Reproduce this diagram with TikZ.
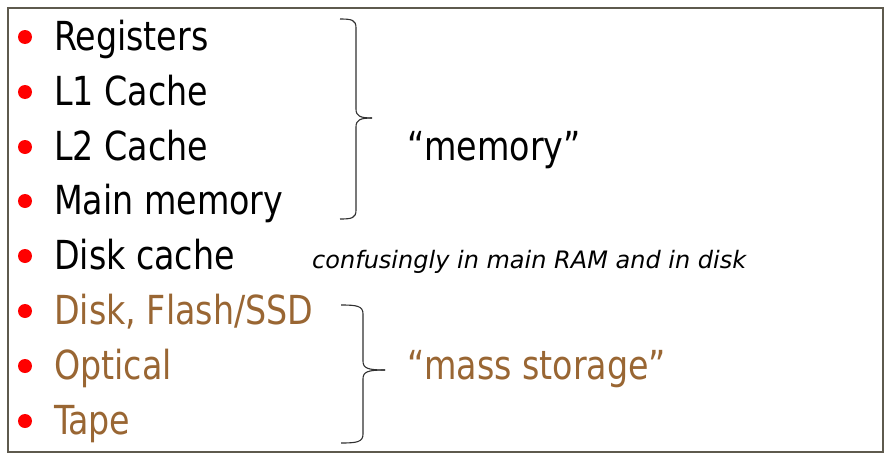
\documentclass[tikz,border=0pt]{standalone}
\usepackage{fontspec}
\setmainfont[FakeStretch=0.925]{DejaVu Sans Condensed}
\newfontfamily\notefont{DejaVu Sans}
\definecolor{storbrown}{HTML}{996633}
\definecolor{framegray}{HTML}{5E5A4E}
\definecolor{bracegray}{HTML}{303030}
\tikzset{
  item/.style={anchor=base west, inner sep=0pt, font=\fontsize{40}{40}\selectfont},
  dot/.style={circle, fill=red, inner sep=0pt, minimum size=14pt},
  brace/.style={draw=bracegray, line width=1.1pt},
}
\begin{document}
\begin{tikzpicture}[x=1pt, y=-1pt]
        \useasboundingbox (0, 0) rectangle (889, 458);
        \draw[framegray, line width=1.4pt] (8, 8) rectangle (883, 452);
	% the list
	\node[item] (regs) at (54, 50) {Registers};
	\node[item] (lone) at (54, 105) {L1 Cache};
	\node[item] (ltwo) at (54, 160) {L2 Cache};
	\node[item] (mainmem) at (54, 214) {Main memory};
	\node[item] (dcache) at (54, 269) {Disk cache};
	\node[item, storbrown] (disk) at (54, 324) {Disk, Flash/SSD};
	\node[item, storbrown] (optical) at (54, 379) {Optical};
	\node[item, storbrown] (tape) at (54, 434) {Tape};
	\foreach \y in {37, 92, 147, 201, 256, 311, 366, 421}
	    \node[dot] at (25, \y) {};
	% braces
	\draw[brace] (340, 19) .. controls (352, 19) and (356, 20) .. (356, 28) -- (356, 109)
	    .. controls (356, 116) and (360, 118) .. (372, 118);
	\draw[brace] (340, 219) .. controls (352, 219) and (356, 218) .. (356, 210) -- (356, 127)
	    .. controls (356, 120) and (360, 118) .. (372, 118);
	\draw[brace] (341, 305) .. controls (357, 305) and (363, 306) .. (363, 314) -- (363, 361)
	    .. controls (363, 368) and (367, 370) .. (385, 370);
	\draw[brace] (341, 443) .. controls (357, 443) and (363, 442) .. (363, 434) -- (363, 379)
	    .. controls (363, 372) and (367, 370) .. (385, 370);
	% labels
	\node[item] (memlabel) at (407, 160) {``memory''};
	\node[item, storbrown] (masslabel) at (407, 379) {``mass storage''};
	\node[anchor=base west, inner sep=0pt, font=\notefont\fontsize{24}{24}\selectfont\itshape] (note) at (312, 268)
	    {confusingly in main RAM and in disk};
    \end{tikzpicture}
\end{document}
